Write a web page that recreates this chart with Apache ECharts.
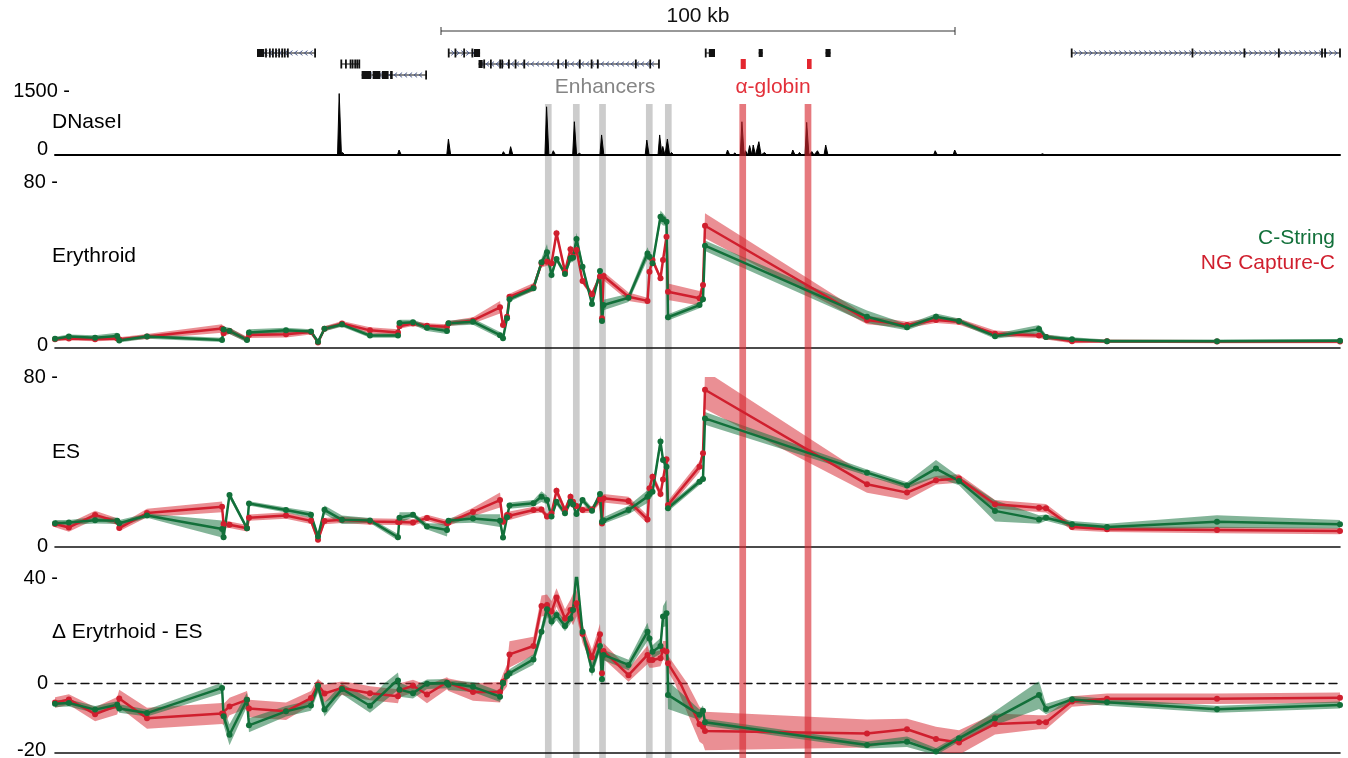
<!DOCTYPE html>
<html>
<head>
<meta charset="utf-8">
<script src="https://cdn.jsdelivr.net/npm/echarts@6/dist/echarts.min.js"></script>
<style>
html, body { margin: 0; padding: 0; background: #fff; }
#chart { width: 1348px; height: 758px; }
</style>
</head>
<body>
<div id="chart"></div>
<script>
// ---------- data (genomic coordinates in kb from the left edge of the window) ----------
const fragKb = [0.0, 2.7, 7.8, 12.1, 12.5, 17.9, 32.5, 32.8, 33.95, 37.35,
  37.74, 44.94, 49.8, 51.17, 52.43, 55.84, 61.28, 66.73, 67.02, 69.65,
  72.37, 76.26, 76.56, 81.32, 86.58, 87.16, 87.94, 88.42, 93.09, 94.65,
  95.72, 96.6, 97.57, 99.22, 100.29, 100.78, 101.46, 102.63, 104.47, 106.03,
  106.42, 106.71, 111.58, 115.27, 115.66, 116.25, 117.8, 118.29, 118.97, 119.26,
  125.39, 126.07, 126.46, 157.98, 165.76, 171.4, 175.88, 182.88, 191.44, 192.8,
  197.86, 204.67, 226.07, 250.0];

// Erythroid interaction frequency
const eryRed = [4.2,4.6,4.2,4.6,4.2,5.5,9.4,7.1,8.2,4.2,6.3,6.6,7.7,2.7,9.3,11.8,8.5,7.5,10.5,11.8,
  10.7,10.2,11.8,13.3,19.6,11.1,15.1,24.7,29.3,40.8,41.6,40.8,55.3,36.8,47.6,44.0,47.2,32.3,25.9,34.4,
  14.3,34.7,24.7,22.7,36.8,42.4,33.6,42.4,53.6,27.1,24.0,30.4,58.9,13.5,11.1,13.5,12.7,6.9,6.0,5.3,
  3.3,3.3,3.1,3.1];
const eryGreen = [4.4,5.5,4.9,5.8,3.6,5.5,3.9,8.9,8.2,3.9,7.5,8.5,8.0,3.0,9.3,11.3,6.0,6.0,12.1,12.4,
  9.7,8.2,11.9,12.7,6.2,4.7,14.3,23.5,28.8,41.3,46.1,35.2,42.9,35.7,43.2,43.5,52.5,39.2,21.2,37.1,
  13.0,20.7,24.2,45.6,44.0,40.8,63.3,62.0,60.9,14.8,20.7,23.5,49.3,15.1,10.0,15.1,13.0,5.7,9.1,5.3,
  4.2,3.3,3.3,3.5];
const eryRedErr = [1.0,1.0,1.0,1.0,1.0,1.2,2.0,1.5,1.5,1.2,1.5,1.5,1.2,1.0,1.2,1.2,1.5,1.5,1.2,1.2,
  1.2,1.2,1.2,1.5,3.0,2.0,1.5,1.5,2.0,2.0,2.0,2.0,2.0,1.5,2.0,2.0,2.0,1.5,1.5,2.0,
  1.5,2.0,2.0,1.5,1.5,1.5,1.5,1.5,2.0,4.0,3.5,2.0,6.0,2.0,1.5,1.5,1.5,1.5,1.2,1.2,
  1.0,0.8,0.8,0.8];
const eryGreenErr = [1.0,1.0,1.2,1.5,1.0,1.0,1.0,1.5,1.5,1.2,1.5,1.2,1.0,1.0,1.2,1.0,1.0,1.0,1.5,1.2,
  1.5,1.5,1.2,1.5,1.5,1.5,1.5,1.2,1.2,2.0,4.0,2.0,1.5,1.5,2.0,2.0,3.0,2.0,1.5,1.5,
  1.5,2.5,2.0,3.0,2.0,1.5,3.0,3.0,2.0,1.5,1.5,1.5,2.5,3.0,1.5,1.5,1.2,1.2,2.0,1.2,
  1.0,0.8,0.8,0.8];

// ES interaction frequency
const esRed = [10.8,9.2,15.1,12.0,8.9,16.0,18.9,10.8,10.5,8.8,13.8,14.8,12.3,3.4,12.2,12.8,12.0,11.8,11.8,11.5,
  13.7,11.2,11.5,16.5,22.1,11.9,15.1,14.7,17.4,17.7,14.3,15.9,26.5,17.4,23.7,21.3,19.3,17.4,17.7,22.5,
  11.1,22.9,21.6,13.0,27.6,33.1,24.9,31.8,41.3,19.8,37.8,44.1,74.0,29.5,25.6,31.4,32.2,20.1,18.5,18.2,
  9.4,8.3,8.0,7.5];
const esGreen = [11.2,11.5,12.6,12.3,11.2,14.8,8.5,4.6,24.5,8.8,20.5,17.4,15.2,5.0,17.5,12.8,12.5,4.6,13.8,15.2,
  9.7,8.0,12.3,13.4,12.4,4.5,14.0,19.5,20.6,23.7,22.1,14.3,21.3,15.9,21.3,20.0,15.5,22.1,17.1,24.9,
  11.9,12.5,17.4,23.7,25.0,26.0,49.6,41.0,37.8,18.2,30.7,32.0,60.5,35.0,29.0,36.9,31.1,17.0,13.0,13.8,
  10.7,9.4,11.9,10.7];
const esRedErr = [1.5,2.0,2.0,1.5,1.5,2.0,2.5,2.0,1.5,1.5,1.5,1.5,1.5,1.5,1.5,1.5,1.5,1.5,1.5,1.5,
  1.5,1.5,1.5,2.0,3.5,2.0,2.0,2.0,1.5,1.5,1.5,1.5,2.0,1.5,2.0,1.5,1.5,1.5,1.5,2.0,
  1.5,2.0,2.0,2.0,2.0,2.0,2.0,2.0,2.0,2.0,2.5,2.5,9.0,4.0,3.5,2.0,2.0,2.0,2.0,2.0,
  1.5,1.2,1.5,1.5];
const esGreenErr = [1.5,1.2,1.5,1.5,1.5,1.0,4.0,1.5,1.5,1.0,1.0,1.2,1.5,1.5,2.0,2.0,1.2,1.5,2.5,1.2,
  1.5,3.0,1.2,2.0,3.0,1.5,1.5,1.5,1.5,2.5,2.0,1.5,1.5,1.5,1.5,1.5,1.5,1.5,1.5,1.5,
  1.5,1.5,2.0,3.0,3.0,2.0,3.0,2.0,2.0,1.5,1.5,1.5,3.0,1.5,1.5,4.0,2.0,5.0,2.0,1.5,
  1.5,1.5,3.0,2.0];

// Difference Erythroid - ES
const dRed = [-5.6,-4.7,-8.9,-6.5,-4.4,-10.1,-8.7,-9.0,-6.7,-4.8,-7.3,-8.1,-4.3,-0.5,-3.0,-1.4,-2.9,-3.8,-2.1,-0.8,
  -3.3,0.2,-0.3,-2.6,-2.6,0.5,3.0,10.9,14.1,29.3,29.7,27.2,32.6,24.6,27.8,28.0,30.4,18.7,9.8,18.6,
  3.7,12.2,3.0,10.7,8.8,8.8,9.4,12.5,12.0,7.5,-11.8,-12.5,-13.7,-14.4,-13.2,-16.0,-17.0,-11.7,-11.2,-11.2,
  -5.3,-4.5,-4.5,-4.2];
const dGreen = [-5.9,-5.7,-7.6,-6.2,-7.3,-8.6,-1.4,-9.5,-14.8,-4.8,-12.1,-8.1,-6.4,-0.8,-7.6,-1.7,-6.5,1.0,-1.9,-2.9,
  -0.2,0.0,-0.5,-1.1,-3.9,0.0,2.7,3.7,9.0,19.5,28.1,23.4,25.9,21.7,24.6,27.8,42.4,19.5,5.0,14.1,
  1.4,10.7,6.9,19.5,17.0,11.9,14.1,25.3,26.6,-3.4,-9.1,-7.9,-11.2,-17.7,-16.8,-19.6,-15.8,-10.1,-3.4,-7.4,
  -4.7,-5.5,-7.5,-6.3];
const dRedErr = [1.5,1.5,2.0,2.5,2.5,3.0,3.0,3.0,2.5,2.5,2.5,2.5,2.0,2.0,2.5,2.0,2.0,2.0,2.0,2.0,
  2.5,2.0,2.0,2.5,3.0,3.0,4.0,5.0,3.5,4.0,4.0,4.0,3.5,3.5,4.0,6.0,5.0,3.5,3.0,4.0,
  3.0,3.0,2.5,3.5,3.0,3.0,3.0,3.5,4.0,3.0,5.0,5.0,5.5,4.0,3.0,3.5,3.5,3.0,2.0,2.0,
  1.5,1.5,1.5,1.5];
const dGreenErr = [1.0,1.0,1.0,1.0,1.2,1.0,1.5,2.5,3.0,2.0,2.0,1.5,1.5,2.0,2.0,1.5,2.0,3.0,2.0,1.5,
  1.5,1.5,1.5,1.5,1.5,1.5,1.5,1.5,2.0,2.5,3.0,2.0,2.0,2.0,2.0,2.5,3.0,2.0,2.5,2.0,
  2.0,2.0,2.0,3.5,2.5,2.5,3.0,4.0,5.0,4.0,1.5,1.5,1.0,1.0,1.5,1.0,1.0,2.0,4.0,1.5,
  1.0,1.0,1.0,1.0];

// DNaseI hypersensitivity peaks
const dnaseKb = [12.74,32.7,44.4,47.7,50.0,55.35,56.0,59.3,62.8,67.0,69.1,73.0,76.6,80.7,86.0,87.3,88.7,
  95.7,97.0,101.1,102.1,106.4,109.9,113.8,115.2,117.7,118.3,119.2,120.0,127.0,128.4,130.9,132.3,133.7,
  134.4,135.2,135.9,137.0,138.1,141.0,143.6,144.9,146.3,147.3,148.4,150.0,151.8,156.6,164.4,171.3,175.1,
  191.2,192.2];
const dnaseVal = [20,45,15,15,12,1440,60,15,20,117,25,20,375,25,30,78,195,
  1130,100,780,40,470,25,30,350,470,200,375,60,40,20,117,50,780,
  100,220,234,312,60,25,117,60,765,80,100,234,40,25,20,100,117,
  40,30];

// Highlighted elements
const enhancerKb = [95.97, 101.42, 106.52, 115.62, 119.32];
const globinKb = [133.8, 146.5];
const highlightWidthKb = 1.3;

// Gene annotation
const geneStart  = [39.3, 76.6, 126.6, 136.9, 149.9, 197.8, 55.7, 82.4, 59.65, 133.4, 146.3];
const geneEnd    = [50.6, 82.7, 128.4, 137.7, 150.9, 250.0, 59.2, 117.5, 72.2, 134.4, 147.2];
const geneRow    = [1, 1, 1, 1, 1, 1, 2, 2, 3, 2, 2];
const geneStrand = [-1, 1, 0, 0, 0, 1, 0, -1, -1, 0, 0];
const geneKind   = ['gene','gene','gene','gene','gene','gene','gene','gene','gene','globin','globin'];
const geneTicks  = [
  [41.05, 41.8, 42.4, 43.0, 43.6, 44.2, 44.7, 45.3, 50.6],
  [76.6, 77.9, 79.6, 81.2],
  [126.6],
  [],
  [],
  [197.8, 221.3, 231.4, 238.1, 246.5, 247.1, 250.0],
  [55.7, 56.6, 57.5, 57.9, 58.4, 58.8, 59.2],
  [83.5, 84.8, 86.6, 87.0, 88.3, 89.6, 91.3, 97.9, 99.4, 102.1, 104.4, 105.6, 113.0, 115.8, 117.5],
  [72.2],
  [],
  []
];
const geneBlocks = [
  [[39.3, 40.7]],
  [[81.5, 82.7]],
  [[127.2, 128.4]],
  [[136.9, 137.7]],
  [[149.9, 150.9]],
  [],
  [],
  [[82.4, 83.2]],
  [[59.65, 61.5], [61.8, 63.3], [63.6, 64.9], [65.2, 65.7]],
  [[133.4, 134.4]],
  [[146.3, 147.2]]
];
const scaleBar = [75.1, 175.1];
const scaleBarLabel = '100 kb';

// Axis ticks per track
const dnaseTicks = [0, 1500];
const eryTicks = [0, 80];
const esTicks = [0, 80];
const deltaTicks = [-20, 0, 40];

// Text
const trackNames = ['DNaseI', 'Erythroid', 'ES', '\u0394 Erytrhoid - ES'];
const seriesNames = ['C-String', 'NG Capture-C'];

// ---------- styling ----------
const FONT = "'Liberation Sans', Arial, Helvetica, sans-serif";
const RED = '#d01f2e';
const GREEN = '#12703a';
const RED_BAND = 'rgba(214, 40, 50, 0.52)';
const GREEN_BAND = 'rgba(18, 112, 58, 0.52)';
const GLOBIN_BAR = 'rgba(214, 38, 46, 0.62)';
const ENH_BAR = '#cccccc';
const X_MAX = 250;

const chart = echarts.init(document.getElementById('chart'), null, { renderer: 'canvas' });

function grid(top, height) {
  return { left: 55, width: 1285, top: top, height: height, containLabel: false, outerBoundsMode: 'none' };
}

function xAxis(gridIndex, lineStyle) {
  return {
    type: 'value', gridIndex: gridIndex, min: 0, max: X_MAX,
    show: !!lineStyle, z: 1.5,
    axisLine: lineStyle ? { show: true, onZero: false, lineStyle: lineStyle } : { show: false },
    axisTick: { show: false }, axisLabel: { show: false }, splitLine: { show: false }
  };
}

function yAxis(gridIndex, ticks, opts) {
  const lo = ticks[0], hi = ticks[ticks.length - 1];
  return {
    type: 'value', gridIndex: gridIndex, min: lo, max: hi, interval: hi - lo,
    axisLine: { show: false }, axisTick: { show: false }, splitLine: { show: false },
    axisLabel: {
      show: true, margin: opts.margin, color: '#000', fontFamily: FONT, fontSize: 20,
      formatter: function (v) {
        if (opts.hide && opts.hide.indexOf(v) >= 0) return '';
        return v === opts.dashAt ? '{a|' + v + ' -}' : '{b|' + v + '}';
      },
      rich: {
        a: { fontFamily: FONT, fontSize: 20, color: '#000' },
        b: { fontFamily: FONT, fontSize: 20, color: '#000', padding: opts.pad }
      }
    }
  };
}

function hiddenY(gridIndex, min, max, inverse) {
  return { type: 'value', gridIndex: gridIndex, min: min, max: max, inverse: !!inverse, show: false };
}

function pairs(xs, ys) { return xs.map(function (x, i) { return [x, ys[i]]; }); }

function band(g, ys, err, color) {
  return {
    type: 'custom', xAxisIndex: g, yAxisIndex: g, clip: true, z: 3, silent: true,
    data: [[fragKb[0], ys[0]]],
    renderItem: function (params, api) {
      const pts = [];
      for (let i = 0; i < fragKb.length; i++) pts.push(api.coord([fragKb[i], ys[i] + err[i]]));
      for (let i = fragKb.length - 1; i >= 0; i--) pts.push(api.coord([fragKb[i], ys[i] - err[i]]));
      return { type: 'polygon', shape: { points: pts }, style: { fill: color } };
    }
  };
}

function line(g, name, ys, color) {
  return {
    type: 'line', name: name, xAxisIndex: g, yAxisIndex: g, data: pairs(fragKb, ys),
    symbol: 'circle', symbolSize: 6, showSymbol: true, clip: true, z: 5, silent: true,
    lineStyle: { width: 2.5, color: color }, itemStyle: { color: color },
    emphasis: { disabled: true }
  };
}

function track(g, red, redErr, green, greenErr) {
  return [
    band(g, red, redErr, RED_BAND),
    band(g, green, greenErr, GREEN_BAND),
    line(g, seriesNames[1], red, RED),
    line(g, seriesNames[0], green, GREEN)
  ];
}

// DNaseI spikes built from the peak list
function dnaseData() {
  const hw = 0.38;
  const pts = [[0, 0]];
  for (let i = 0; i < dnaseKb.length; i++) {
    pts.push([dnaseKb[i] - hw, 0], [dnaseKb[i] - 0.06, dnaseVal[i]], [dnaseKb[i] + 0.06, dnaseVal[i]], [dnaseKb[i] + hw, 0]);
  }
  pts.push([X_MAX, 0]);
  return pts;
}

function highlightSeries(positions, fill, z) {
  return {
    type: 'custom', xAxisIndex: 6, yAxisIndex: 6, z: z, silent: true,
    data: positions.map(function (p) { return [p, highlightWidthKb]; }),
    renderItem: function (params, api) {
      const x = api.value(0), w = api.value(1);
      const p0 = api.coord([x - w / 2, 1]);
      const p1 = api.coord([x + w / 2, 0]);
      return { type: 'rect', shape: { x: p0[0], y: p0[1], width: p1[0] - p0[0], height: p1[1] - p0[1] }, style: { fill: fill } };
    }
  };
}

const geneSeries = {
  type: 'custom', xAxisIndex: 0, yAxisIndex: 0, silent: true, z: 2,
  data: geneStart.map(function (s, i) { return [s, geneEnd[i], geneRow[i]]; }),
  encode: { x: [0, 1], y: 2 },
  renderItem: function (params, api) {
    const i = params.dataIndex;
    const y = api.coord([0, geneRow[i]])[1];
    const xs = api.coord([geneStart[i], geneRow[i]])[0];
    const xe = api.coord([geneEnd[i], geneRow[i]])[0];
    const globin = geneKind[i] === 'globin';
    const col = globin ? '#e3262f' : '#111';
    const children = [];
    if (!globin) {
      children.push({ type: 'line', shape: { x1: xs, y1: y, x2: xe, y2: y }, style: { stroke: '#111', lineWidth: 1 } });
    }
    if (geneStrand[i] !== 0) {
      const d = geneStrand[i] * 1.5;
      for (let x = xs + 4; x < xe - 3; x += 5) {
        children.push({ type: 'polyline', shape: { points: [[x - d, y - 2.4], [x + d, y], [x - d, y + 2.4]] },
          style: { stroke: '#3d4f86', lineWidth: 0.9, fill: null } });
      }
    }
    geneTicks[i].forEach(function (t) {
      const tx = api.coord([t, geneRow[i]])[0];
      children.push({ type: 'rect', shape: { x: tx - 0.9, y: y - 4.5, width: 1.8, height: 9 }, style: { fill: col } });
    });
    geneBlocks[i].forEach(function (b) {
      const b0 = api.coord([b[0], geneRow[i]])[0];
      const b1 = api.coord([b[1], geneRow[i]])[0];
      const h = globin ? 10 : 8;
      children.push({ type: 'rect', shape: { x: b0, y: y - h / 2, width: Math.max(b1 - b0, 1.5), height: h }, style: { fill: col } });
    });
    return { type: 'group', children: children };
  }
};

const scaleSeries = {
  type: 'custom', xAxisIndex: 0, yAxisIndex: 0, silent: true, z: 2,
  data: [[scaleBar[0], scaleBar[1], -1]],
  encode: { x: [0, 1], y: 2 },
  renderItem: function (params, api) {
    const p0 = api.coord([api.value(0), api.value(2)]);
    const p1 = api.coord([api.value(1), api.value(2)]);
    const y = p0[1];
    return {
      type: 'group', children: [
        { type: 'line', shape: { x1: p0[0], y1: y, x2: p1[0], y2: y }, style: { stroke: '#333', lineWidth: 1 } },
        { type: 'line', shape: { x1: p0[0], y1: y - 4, x2: p0[0], y2: y + 4 }, style: { stroke: '#333', lineWidth: 1 } },
        { type: 'line', shape: { x1: p1[0], y1: y - 4, x2: p1[0], y2: y + 4 }, style: { stroke: '#333', lineWidth: 1 } },
        { type: 'text', style: { text: scaleBarLabel, x: (p0[0] + p1[0]) / 2, y: y - 15,
          align: 'center', verticalAlign: 'middle', textAlign: 'center', textVerticalAlign: 'middle',
          font: '21px ' + FONT, fill: '#111' } }
      ]
    };
  }
};

function label(text, x, y, color, align) {
  return { type: 'text', x: x, y: y, silent: true, z: 10,
    style: { text: text, font: '21px ' + FONT, fill: color,
      align: align || 'left', verticalAlign: 'middle',
      textAlign: align || 'left', textVerticalAlign: 'middle' } };
}

const axisBlack = { color: '#111', width: 1.6 };

const option = {
  animation: false,
  backgroundColor: '#ffffff',
  textStyle: { fontFamily: FONT },
  grid: [
    grid(31, 49.5),     // 0 genes
    grid(91, 64),       // 1 DNaseI
    grid(182, 166),     // 2 Erythroid
    grid(377, 170),     // 3 ES
    grid(578, 105),     // 4 difference, positive part
    grid(683, 70),      // 5 difference, negative part
    grid(104, 654)      // 6 highlight columns
  ],
  xAxis: [
    xAxis(0, null),
    xAxis(1, { color: '#000', width: 2 }),
    xAxis(2, axisBlack),
    xAxis(3, axisBlack),
    xAxis(4, { color: '#111', width: 1.4, type: [8, 5] }),
    xAxis(5, axisBlack),
    xAxis(6, null)
  ],
  yAxis: [
    hiddenY(0, -1, 3.5, true),
    yAxis(1, dnaseTicks, { margin: -15, dashAt: 1500, pad: [0, 22, 12, 0] }),
    yAxis(2, eryTicks, { margin: -3, dashAt: 80, pad: [0, 10, 6, 0] }),
    yAxis(3, esTicks, { margin: -3, dashAt: 80, pad: [0, 10, 2, 0] }),
    yAxis(4, [deltaTicks[1], deltaTicks[2]], { margin: -3, dashAt: 40, pad: [0, 10, 0, 0] }),
    yAxis(5, [deltaTicks[0], deltaTicks[1]], { margin: -3, dashAt: null, pad: [0, 12, 6, 0], hide: [0] }),
    hiddenY(6, 0, 1, false)
  ],
  graphic: {
    elements: [
      label(trackNames[0], 52, 122, '#000'),
      label(trackNames[1], 52, 256, '#000'),
      label(trackNames[2], 52, 452, '#000'),
      label(trackNames[3], 52, 632, '#000'),
      label('Enhancers', 605, 87, '#858585', 'center'),
      label('\u03b1-globin', 773, 87, '#e3303a', 'center'),
      label(seriesNames[0], 1335, 238, GREEN, 'right'),
      label(seriesNames[1], 1335, 263, RED, 'right')
    ]
  },
  series: [
    scaleSeries,
    geneSeries,
    highlightSeries(enhancerKb, ENH_BAR, 1),
    {
      type: 'line', xAxisIndex: 1, yAxisIndex: 1, data: dnaseData(), symbol: 'none', z: 2, silent: true,
      lineStyle: { color: '#000', width: 1 }, areaStyle: { color: '#000', opacity: 1 }
    }
  ]
    .concat(track(2, eryRed, eryRedErr, eryGreen, eryGreenErr))
    .concat(track(3, esRed, esRedErr, esGreen, esGreenErr))
    .concat(track(4, dRed, dRedErr, dGreen, dGreenErr))
    .concat(track(5, dRed, dRedErr, dGreen, dGreenErr))
    .concat([highlightSeries(globinKb, GLOBIN_BAR, 4)])
};

chart.setOption(option);
</script>
</body>
</html>
